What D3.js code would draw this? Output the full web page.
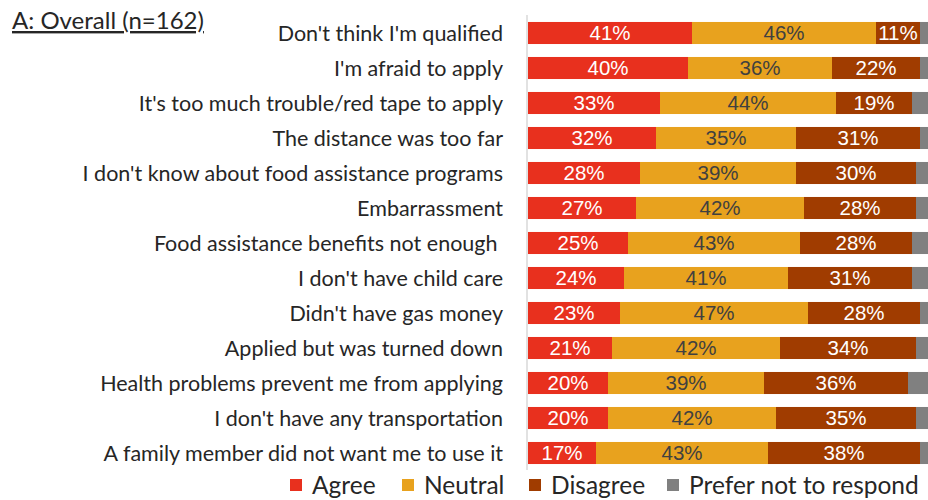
<!DOCTYPE html>
<html><head><meta charset="utf-8">
<script src="https://cdn.jsdelivr.net/npm/d3@7"></script>
<style>body{margin:0;background:#fff}svg{display:block}</style>
</head><body><div id="chart"></div>
<script>
const categories = [
  "Don't think I'm qualified",
  "I'm afraid to apply",
  "It's too much trouble/red tape to apply",
  "The distance was too far",
  "I don't know about food assistance programs",
  "Embarrassment",
  "Food assistance benefits not enough ",
  "I don't have child care",
  "Didn't have gas money",
  "Applied but was turned down",
  "Health problems prevent me from applying",
  "I don't have any transportation",
  "A family member did not want me to use it"
];
const agree    = [41,40,33,32,28,27,25,24,23,21,20,20,17];
const neutral  = [46,36,44,35,39,42,43,41,47,42,39,42,43];
const disagree = [11,22,19,31,30,28,28,31,28,34,36,35,38];
const preferNot= [2,2,4,2,3,3,4,4,2,3,5,3,2];
const seriesNames = ["Agree","Neutral","Disagree","Prefer not to respond"];
const seriesColors = ["#E8301E","#E8A21E","#A03C00","#808080"];
const labelColors = ["#ffffff","#404040","#ffffff",null];
const title = "A: Overall (n=162)";

const W = 928, H = 500;
const svg = d3.select("#chart").append("svg").attr("width", W).attr("height", H);
const labelFont = "Lato, 'Open Sans', sans-serif";

const x = d3.scaleLinear().domain([0,100]).range([528, 928]);
const y = d3.scaleBand().domain(categories).range([15.5, 470.5]).paddingInner(0.37).paddingOuter(0.185);

const rows = categories.map((c,i)=>({cat:c, vals:[agree[i],neutral[i],disagree[i],preferNot[i]]}));
const stackData = rows.map(r=>{ const o={cat:r.cat}; seriesNames.forEach((s,j)=>o[s]=r.vals[j]); return o; });
const stacked = d3.stack().keys(seriesNames)(stackData);

// axis line
svg.append("line").attr("x1",527).attr("x2",527).attr("y1",15).attr("y2",470)
  .attr("stroke","#d9d9d9").attr("stroke-width",1.5);

const g = svg.append("g");
stacked.forEach((layer,j)=>{
  g.selectAll(null).data(layer).enter().append("rect")
    .attr("x", d=>x(d[0])).attr("width", d=>x(d[1])-x(d[0]))
    .attr("y", d=>y(d.data.cat)).attr("height", y.bandwidth())
    .attr("fill", seriesColors[j]);
  if (labelColors[j]) {
    g.selectAll(null).data(layer).enter().append("text")
      .attr("x", d=>(x(d[0])+x(d[1]))/2)
      .attr("y", d=>y(d.data.cat)+y.bandwidth()/2)
      .attr("dy","0.36em").attr("text-anchor","middle")
      .attr("font-family","'Liberation Sans', Arial, sans-serif").attr("font-size",20.5)
      .attr("fill", labelColors[j])
      .text(d=>(d[1]-d[0])+"%");
  }
});

// category labels
svg.append("g").selectAll("text").data(categories).enter().append("text")
  .attr("x", 503).attr("y", d=>y(d)+y.bandwidth()/2).attr("dy","0.35em")
  .attr("text-anchor","end").attr("font-family",labelFont).attr("font-size",21.5)
  .attr("fill","#262626").attr("xml:space","preserve").style("white-space","pre")
  .text(d=>d);

// title
svg.append("text").attr("x",12).attr("y",29).attr("font-family",labelFont)
  .attr("font-size",24).attr("fill","#262626").attr("text-decoration","underline").text(title);

// legend
const legendX = [290, 402, 529, 667];
const lg = svg.append("g");
seriesNames.forEach((s,j)=>{
  lg.append("rect").attr("x",legendX[j]).attr("y",479).attr("width",12).attr("height",12).attr("fill",seriesColors[j]);
  lg.append("text").attr("x",legendX[j]+22).attr("y",494)
    .attr("font-family",labelFont).attr("font-size",24.5).attr("fill","#262626").text(s);
});
</script></body></html>
